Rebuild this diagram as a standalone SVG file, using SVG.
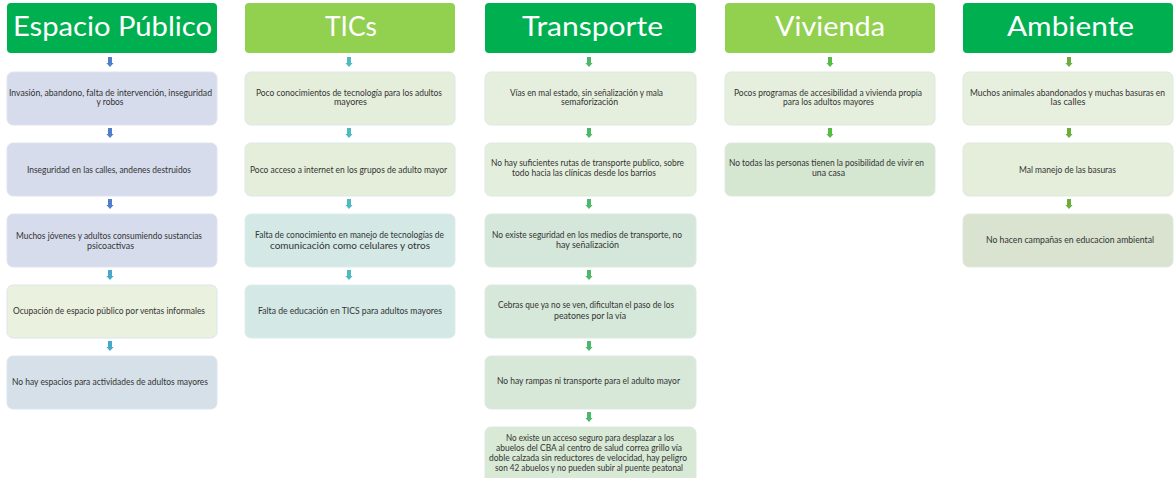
<svg xmlns="http://www.w3.org/2000/svg" xmlns:xlink="http://www.w3.org/1999/xlink" width="1174" height="478" viewBox="0 0 1174 478">
<defs>
<style>
.hd{font-family:Lato,"Liberation Sans",sans-serif;font-size:27px;fill:#ffffff;text-anchor:middle}
.tx{font-family:Lato,"Liberation Sans",sans-serif;font-size:8.5px;fill:#333333;text-anchor:middle}
.dk{fill:#00b050}
.lt{fill:#92d050}
.bx{stroke-width:1}
</style>
<path id="arr" d="M-2,0 H2 V6 H3.6 L0,10 L-3.6,6 H-2 Z"/>
</defs>
<rect width="1174" height="478" fill="#ffffff"/>

<g id="connectors">
<g fill="#4f7fc8">
<use xlink:href="#arr" x="110" y="57"/>
<use xlink:href="#arr" x="110" y="128"/>
<use xlink:href="#arr" x="110" y="199"/>
</g>
<g fill="#47a8cc">
<use xlink:href="#arr" x="110" y="270"/>
<use xlink:href="#arr" x="110" y="341"/>
</g>
<g fill="#4dbbc0">
<use xlink:href="#arr" x="349" y="57"/>
<use xlink:href="#arr" x="349" y="128"/>
<use xlink:href="#arr" x="349" y="199"/>
<use xlink:href="#arr" x="349" y="270"/>
</g>
<g fill="#4cb86b">
<use xlink:href="#arr" x="589" y="57"/>
<use xlink:href="#arr" x="589" y="128"/>
<use xlink:href="#arr" x="589" y="199"/>
<use xlink:href="#arr" x="589" y="270"/>
<use xlink:href="#arr" x="589" y="341"/>
<use xlink:href="#arr" x="589" y="412"/>
</g>
<g fill="#57bb45">
<use xlink:href="#arr" x="830" y="57"/>
<use xlink:href="#arr" x="830" y="128"/>
</g>
<g fill="#6aae3f">
<use xlink:href="#arr" x="1069" y="57"/>
<use xlink:href="#arr" x="1069" y="128"/>
<use xlink:href="#arr" x="1069" y="199"/>
</g>
</g>

<!-- Column 1: Espacio Público -->
<g id="h-espacio"><rect class="dk" x="7" y="3" width="210" height="50" rx="4"/><text class="hd" x="112.5" y="36" textLength="199" lengthAdjust="spacingAndGlyphs">Espacio Público</text></g>
<g id="ep1"><rect class="bx" x="7" y="72" width="210" height="53" rx="6" fill="#d6dcec" stroke="#dfe4f0"/>
<text class="tx" x="110.5" y="96" textLength="203" lengthAdjust="spacingAndGlyphs">Invasión, abandono, falta de intervención, inseguridad</text>
<text class="tx" x="110" y="105" textLength="27" lengthAdjust="spacingAndGlyphs">y robos</text></g>
<g id="ep2"><rect class="bx" x="7" y="143" width="210" height="53" rx="6" fill="#d6dcec" stroke="#dfe4f0"/>
<text class="tx" x="109" y="173" textLength="164" lengthAdjust="spacingAndGlyphs">Inseguridad en las calles, andenes destruidos</text></g>
<g id="ep3"><rect class="bx" x="7" y="214" width="210" height="53" rx="6" fill="#d6dcec" stroke="#dfe4f0"/>
<text class="tx" x="109" y="239" textLength="186" lengthAdjust="spacingAndGlyphs">Muchos jóvenes y adultos consumiendo sustancias</text>
<text class="tx" x="110.5" y="249" textLength="47" lengthAdjust="spacingAndGlyphs">psicoactivas</text></g>
<g id="ep4"><rect class="bx" x="7" y="285" width="210" height="53" rx="6" fill="#ebf1df" stroke="#dbe5ef"/>
<text class="tx" x="109" y="314" textLength="192" lengthAdjust="spacingAndGlyphs">Ocupación de espacio público por ventas informales</text></g>
<g id="ep5"><rect class="bx" x="7" y="356" width="210" height="53" rx="6" fill="#d5e0e9" stroke="#dde6ee"/>
<text class="tx" x="110" y="385" textLength="196" lengthAdjust="spacingAndGlyphs">No hay espacios para actividades de adultos mayores</text></g>

<!-- Column 2: TICs -->
<g id="h-tics"><rect class="lt" x="245" y="3" width="210" height="50" rx="4"/><text class="hd" x="351" y="36" textLength="52" lengthAdjust="spacingAndGlyphs">TICs</text></g>
<g id="t1"><rect class="bx" x="245" y="72" width="210" height="53" rx="6" fill="#e5eedb" stroke="#dce8ec"/>
<text class="tx" x="349" y="96" textLength="186" lengthAdjust="spacingAndGlyphs">Poco conocimientos de tecnología para los adultos</text>
<text class="tx" x="350.5" y="105" textLength="33" lengthAdjust="spacingAndGlyphs">mayores</text></g>
<g id="t2"><rect class="bx" x="245" y="143" width="210" height="53" rx="6" fill="#e5eedb" stroke="#dce8ec"/>
<text class="tx" x="348.5" y="173" textLength="197" lengthAdjust="spacingAndGlyphs">Poco acceso a internet en los grupos de adulto mayor</text></g>
<g id="t3"><rect class="bx" x="245" y="214" width="210" height="53" rx="6" fill="#d4e8e6" stroke="#dcecec"/>
<text class="tx" x="349.5" y="238" textLength="189" lengthAdjust="spacingAndGlyphs">Falta de conocimiento en manejo de tecnologías de</text>
<text class="tx" x="350" y="249" textLength="160" lengthAdjust="spacingAndGlyphs">comunicación como celulares y otros</text></g>
<g id="t4"><rect class="bx" x="245" y="285" width="210" height="53" rx="6" fill="#d4e8e6" stroke="#dcecec"/>
<text class="tx" x="350" y="314" textLength="184" lengthAdjust="spacingAndGlyphs">Falta de educación en TICS para adultos mayores</text></g>

<!-- Column 3: Transporte -->
<g id="h-transporte"><rect class="dk" x="485" y="3" width="211" height="50" rx="4"/><text class="hd" x="592.5" y="36" textLength="141" lengthAdjust="spacingAndGlyphs">Transporte</text></g>
<g id="tr1"><rect class="bx" x="485" y="72" width="211" height="53" rx="6" fill="#e6efdd" stroke="#dde9e0"/>
<text class="tx" x="586.5" y="96" textLength="153" lengthAdjust="spacingAndGlyphs">Vías en mal estado, sin señalización y mala</text>
<text class="tx" x="589.5" y="105" textLength="57" lengthAdjust="spacingAndGlyphs">semaforización</text></g>
<g id="tr2"><rect class="bx" x="485" y="143" width="211" height="53" rx="6" fill="#e3eedc" stroke="#dde9e0"/>
<text class="tx" x="587.5" y="166" textLength="193" lengthAdjust="spacingAndGlyphs">No hay suficientes rutas de transporte publico, sobre</text>
<text class="tx" x="584" y="176" textLength="144" lengthAdjust="spacingAndGlyphs">todo hacia las clínicas desde los barrios</text></g>
<g id="tr3"><rect class="bx" x="485" y="214" width="211" height="53" rx="6" fill="#d5e7da" stroke="#dde9e0"/>
<text class="tx" x="587" y="238" textLength="190" lengthAdjust="spacingAndGlyphs">No existe seguridad en los medios de transporte, no</text>
<text class="tx" x="587.5" y="248" textLength="63" lengthAdjust="spacingAndGlyphs">hay señalización</text></g>
<g id="tr4"><rect class="bx" x="485" y="285" width="211" height="53" rx="6" fill="#d6e8d9" stroke="#dde9e0"/>
<text class="tx" x="586" y="308" textLength="176" lengthAdjust="spacingAndGlyphs">Cebras que ya no se ven, dificultan el paso de los</text>
<text class="tx" x="590" y="319" textLength="72" lengthAdjust="spacingAndGlyphs">peatones por la  vía</text></g>
<g id="tr5"><rect class="bx" x="485" y="356" width="211" height="53" rx="6" fill="#d7e8d8" stroke="#dde9e0"/>
<text class="tx" x="588.5" y="384" textLength="183" lengthAdjust="spacingAndGlyphs">No hay rampas ni transporte para el adulto mayor</text></g>
<g id="tr6"><rect class="bx" x="485" y="427" width="211" height="56" rx="6" fill="#d8e9d6" stroke="#dde9e0"/>
<text class="tx" x="590" y="441" textLength="168" lengthAdjust="spacingAndGlyphs">No existe un acceso seguro para desplazar a los</text>
<text class="tx" x="589" y="451" textLength="186" lengthAdjust="spacingAndGlyphs">abuelos del CBA al centro de salud correa grillo vía</text>
<text class="tx" x="588" y="461" textLength="198" lengthAdjust="spacingAndGlyphs">doble calzada sin reductores de velocidad, hay peligro</text>
<text class="tx" x="589" y="471" textLength="188" lengthAdjust="spacingAndGlyphs">son 42 abuelos y no pueden subir al puente peatonal</text></g>

<!-- Column 4: Vivienda -->
<g id="h-vivienda"><rect class="lt" x="725" y="3" width="210" height="50" rx="4"/><text class="hd" x="830" y="36" textLength="110" lengthAdjust="spacingAndGlyphs">Vivienda</text></g>
<g id="v1"><rect class="bx" x="725" y="72" width="210" height="53" rx="6" fill="#e6efdd" stroke="#dde9dd"/>
<text class="tx" x="828" y="96" textLength="188" lengthAdjust="spacingAndGlyphs">Pocos programas de accesibilidad a vivienda propia</text>
<text class="tx" x="828.5" y="105" textLength="91" lengthAdjust="spacingAndGlyphs">para los adultos mayores</text></g>
<g id="v2"><rect class="bx" x="725" y="143" width="210" height="53" rx="6" fill="#d5e6d1" stroke="#dde9dd"/>
<text class="tx" x="826.5" y="166" textLength="195" lengthAdjust="spacingAndGlyphs">No todas las personas tienen la posibilidad de vivir en</text>
<text class="tx" x="828.5" y="176" textLength="33" lengthAdjust="spacingAndGlyphs">una casa</text></g>

<!-- Column 5: Ambiente -->
<g id="h-ambiente"><rect class="dk" x="963" y="3" width="210" height="50" rx="4"/><text class="hd" x="1070.5" y="36" textLength="127" lengthAdjust="spacingAndGlyphs">Ambiente</text></g>
<g id="a1"><rect class="bx" x="963" y="72" width="210" height="53" rx="6" fill="#e7efde" stroke="#e0e9dc"/>
<text class="tx" x="1067.5" y="96" textLength="195" lengthAdjust="spacingAndGlyphs">Muchos animales abandonados y muchas basuras en</text>
<text class="tx" x="1068" y="105" textLength="35" lengthAdjust="spacingAndGlyphs">las calles</text></g>
<g id="a2"><rect class="bx" x="963" y="143" width="210" height="53" rx="6" fill="#e5eedb" stroke="#e0e9dc"/>
<text class="tx" x="1067.5" y="173" textLength="97" lengthAdjust="spacingAndGlyphs">Mal manejo de las basuras</text></g>
<g id="a3"><rect class="bx" x="963" y="214" width="210" height="53" rx="6" fill="#d9e3cf" stroke="#e0e9dc"/>
<text class="tx" x="1070" y="243" textLength="168" lengthAdjust="spacingAndGlyphs">No hacen campañas en educacion ambiental</text></g>
</svg>
